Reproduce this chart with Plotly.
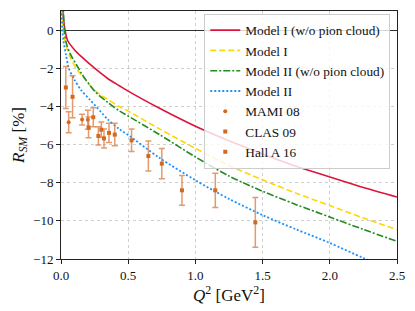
import plotly.graph_objects as go

# Model curves (Q^2 in GeV^2, R_SM in %)
q_red = [0.008, 0.013, 0.03, 0.05, 0.1, 0.15, 0.25, 0.35, 0.437, 0.5, 0.733, 1.0, 1.25, 1.5, 1.75, 2.0, 2.25, 2.5]
r_red = [1.8, 1.0, 0.0, -0.56, -1.03, -1.38, -2.0, -2.55, -2.93, -3.2, -4.1, -5.04, -5.8, -6.49, -7.14, -7.70, -8.25, -8.75]

q_yel = [0.002, 0.005, 0.018, 0.03, 0.058, 0.112, 0.15, 0.25, 0.35, 0.437, 0.5, 0.733, 1.0, 1.25, 1.5, 1.75, 2.0, 2.25, 2.5]
r_yel = [2.0, 1.0, 0.0, -0.56, -1.26, -2.0, -2.34, -3.15, -3.65, -4.02, -4.25, -5.18, -6.2, -7.1, -7.85, -8.55, -9.2, -9.85, -10.46]

q_grn = [0.015, 0.018, 0.025, 0.04, 0.07, 0.13, 0.15, 0.25, 0.35, 0.437, 0.5, 0.733, 1.0, 1.25, 1.5, 1.75, 2.0, 2.25, 2.5]
r_grn = [1.5, 1.0, 0.0, -0.7, -1.26, -2.0, -2.25, -3.2, -3.8, -4.25, -4.51, -5.48, -6.65, -7.65, -8.45, -9.15, -9.8, -10.45, -11.07]

q_blu = [0.003, 0.005, 0.01, 0.018, 0.037, 0.058, 0.1, 0.15, 0.214, 0.35, 0.437, 0.5, 0.733, 1.0, 1.25, 1.5, 1.75, 2.0, 2.25, 2.5]
r_blu = [1.5, 1.0, 0.0, -0.56, -1.3, -2.0, -2.6, -3.15, -3.64, -4.69, -5.21, -5.5, -6.7, -7.87, -8.85, -9.7, -10.45, -11.16, -11.95, -12.7]

# Experimental data
q_mami = [0.057, 0.157, 0.2]
r_mami = [-4.83, -4.69, -4.7]
e_mami = [0.55, 0.28, 0.5]

q_clas = [0.205, 0.24, 0.278, 0.3, 0.32, 0.357, 0.4, 0.525, 0.65, 0.75, 0.9, 1.148, 1.446]
r_clas = [-5.1, -4.57, -5.55, -5.22, -5.68, -5.39, -5.48, -5.78, -6.6, -7.0, -8.4, -8.4, -10.08]
e_clas = [0.55, 0.5, 0.48, 0.4, 0.5, 0.5, 0.59, 0.59, 0.79, 0.79, 0.78, 0.9, 1.3]

q_halla = [0.036, 0.086]
r_halla = [-3.01, -3.5]
e_halla = [1.1, 1.1]

font_family = "Liberation Serif"
dcol = "#d2691e"
ecol = "rgba(218,120,60,0.75)"

fig = go.Figure()
fig.add_trace(go.Scatter(x=q_red, y=r_red, mode="lines", name="Model I (w/o pion cloud)",
                         line=dict(color="#dc143c", width=1.6, shape="spline", smoothing=0.8)))
fig.add_trace(go.Scatter(x=q_yel, y=r_yel, mode="lines", name="Model I",
                         line=dict(color="#ffd700", width=1.6, dash="6px,3px", shape="spline", smoothing=0.8)))
fig.add_trace(go.Scatter(x=q_grn, y=r_grn, mode="lines", name="Model II (w/o pion cloud)",
                         line=dict(color="#228b22", width=1.6, dash="7px,2px,2px,2px", shape="spline", smoothing=0.8)))
fig.add_trace(go.Scatter(x=q_blu, y=r_blu, mode="lines", name="Model II",
                         line=dict(color="#1e90ff", width=1.8, dash="2px,2px", shape="spline", smoothing=0.8)))

for name, qq, rr, ee, sym, sz in [("MAMI 08", q_mami, r_mami, e_mami, "circle", 4),
                                  ("CLAS 09", q_clas, r_clas, e_clas, "square", 4),
                                  ("Hall A 16", q_halla, r_halla, e_halla, "square", 4)]:
    fig.add_trace(go.Scatter(x=qq, y=rr, mode="markers", name=name,
                             marker=dict(color=dcol, size=sz, symbol=sym),
                             error_y=dict(type="data", array=ee, visible=True, color=ecol,
                                          thickness=1.5, width=3)))

axis_common = dict(showline=True, linecolor="#222", linewidth=1, mirror=True,
                   ticks="outside", ticklen=4, tickcolor="#222",
                   showgrid=True, gridcolor="#cfcfcf", griddash="dot", gridwidth=1,
                   tickfont=dict(family=font_family, size=13, color="#111"))

fig.update_layout(
    width=407, height=303,
    margin=dict(l=53, r=18, t=3, b=52),
    paper_bgcolor="white", plot_bgcolor="white",
    font=dict(family=font_family, color="#111"),
    showlegend=True,
    legend=dict(x=0.98, xanchor="right", y=0.988, yanchor="top",
                bgcolor="rgba(255,255,255,0.8)", bordercolor="#cccccc", borderwidth=1,
                font=dict(family=font_family, size=13.3, color="#111"),
                tracegroupgap=0, itemwidth=30),
    xaxis=dict(range=[0, 2.5], tickvals=[0, 0.5, 1.0, 1.5, 2.0, 2.5],
               ticktext=["0.0", "0.5", "1.0", "1.5", "2.0", "2.5"], zeroline=False,
               title=dict(text="<i>Q</i><sup>2</sup> [GeV<sup>2</sup>]", font=dict(family=font_family, size=17),
                          standoff=4),
               **axis_common),
    yaxis=dict(range=[-12, 1], tickvals=[-12, -10, -8, -6, -4, -2, 0],
               zeroline=True, zerolinecolor="#333", zerolinewidth=1,
               title=dict(text="<i>R</i><sub><i>SM</i></sub> [%]", font=dict(family=font_family, size=17),
                          standoff=4),
               **axis_common),
)

fig.write_html("out.html")
